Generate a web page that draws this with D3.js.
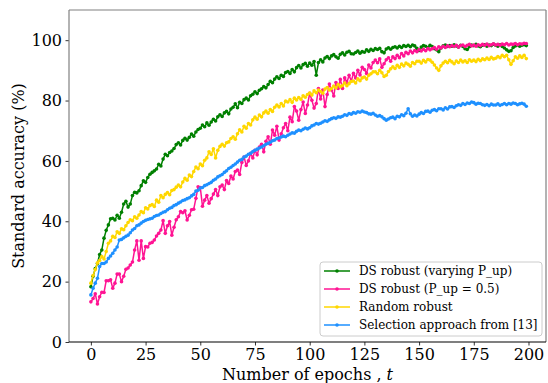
<!DOCTYPE html>
<html><head><meta charset="utf-8">
<script src="https://cdn.jsdelivr.net/npm/d3@7"></script>
<style>body{margin:0;background:#fff;} svg{display:block;}</style>
</head><body>
<svg id="chart" width="548" height="383"></svg>
<script>
const xTicks = [0,25,50,75,100,125,150,175,200];
const yTicks = [0,20,40,60,80,100];
const seriesNames = ["DS robust (varying P_up)","DS robust (P_up = 0.5)","Random robust","Selection approach from [13]"];
const seriesColors = ["#008000","#ff1493","#ffd700","#1e90ff"];

const dsVarying = [
18.3,21.8,24.3,26.0,29.0,30.5,34.4,37.0,38.8,40.8,41.0,40.4,42.0,41.0,43.0,45.7,46.6,44.7,45.7,48.5,
49.6,49.4,50.1,51.8,53.4,52.9,54.5,55.6,56.2,56.7,57.3,58.9,58.3,60.6,62.2,61.7,62.8,63.3,64.1,65.4,
66.0,65.3,66.8,67.5,66.9,67.8,68.9,68.2,69.6,70.4,70.8,71.9,71.3,72.6,71.8,72.9,73.8,73.2,74.6,75.3,
74.7,75.9,76.4,75.6,77.2,77.8,78.9,77.6,79.4,79.0,80.3,80.8,80.2,81.6,82.1,82.9,82.3,83.4,83.9,84.6,
84.2,85.3,86.4,85.9,87.1,87.9,87.3,88.4,88.0,89.3,89.6,89.0,90.3,89.5,90.9,91.6,90.8,91.9,92.3,91.4,
92.4,91.7,92.9,88.4,92.6,93.5,92.8,94.1,94.6,93.9,94.8,95.2,94.5,94.0,95.3,95.8,95.1,96.0,96.3,95.5,
95.4,95.9,96.4,95.7,96.2,96.0,96.8,96.3,97.0,96.6,97.2,96.9,97.3,96.2,95.8,97.1,97.5,97.0,97.6,97.8,
97.4,98.0,97.6,98.2,97.9,98.3,97.8,98.4,98.1,97.3,96.6,97.7,98.2,98.0,97.5,98.3,97.9,97.2,96.8,96.2,
97.4,98.1,98.4,97.9,98.2,98.0,98.5,98.1,97.7,98.3,97.9,97.2,96.9,97.8,98.4,98.2,98.6,98.1,97.8,98.3,
98.5,98.0,98.4,98.2,98.7,98.3,98.0,98.5,97.9,97.4,96.8,96.3,96.5,97.6,98.1,98.4,98.0,98.3,98.5,98.2];

const dsFixed = [
13.3,14.4,16.0,12.6,15.0,16.5,16.4,20.3,20.3,20.6,17.8,19.5,22.5,22.5,20.0,21.8,24.1,24.5,25.5,26.5,
30.5,33.5,27.1,33.5,27.7,31.6,31.5,32.7,33.0,33.8,35.1,36.0,37.1,40.2,36.0,38.5,39.9,35.4,38.0,40.5,
41.5,43.2,42.8,43.5,40.4,42.0,43.8,44.0,47.6,51.4,51.2,45.0,47.0,48.5,46.0,47.5,49.0,50.5,48.5,51.4,
52.0,50.5,53.5,52.5,55.0,54.0,56.5,57.0,55.5,59.5,61.3,58.5,60.0,62.5,61.0,63.5,62.0,64.6,65.5,63.0,
66.5,68.0,65.5,70.2,68.5,71.5,66.9,69.0,71.0,72.4,70.0,74.5,73.0,78.0,76.5,73.5,77.0,79.5,75.7,78.5,
82.4,80.1,77.5,79.0,84.0,80.5,83.5,78.0,82.0,85.5,83.5,81.5,86.0,84.0,87.0,84.0,87.5,86.0,88.4,86.5,
89.0,87.5,90.0,88.5,91.0,90.3,89.0,91.8,90.8,92.6,93.4,92.5,93.8,91.0,92.2,93.5,94.2,93.0,94.5,93.9,
95.0,94.2,95.6,94.8,96.0,95.5,96.4,95.8,96.6,96.2,96.9,96.4,97.0,96.5,97.2,96.8,97.2,97.6,97.0,97.8,
97.4,98.0,97.6,98.1,97.8,98.2,97.9,98.3,97.7,98.2,98.4,97.9,98.3,98.6,98.1,98.4,98.0,98.5,98.2,98.6,
98.3,98.7,98.2,98.5,98.8,98.4,98.6,98.3,98.7,98.5,98.9,98.4,98.7,98.6,98.9,98.5,98.8,98.7,99.0,98.9];

const randomRobust = [
19.5,22.0,24.0,26.2,27.0,28.3,27.5,30.0,32.7,33.5,35.0,34.6,36.5,36.0,37.5,37.2,38.5,39.6,40.5,40.2,
41.5,41.0,42.1,43.2,42.8,44.5,44.1,45.2,45.5,44.9,47.0,46.3,48.5,47.8,48.9,49.5,48.8,50.2,50.5,51.3,
52.0,51.4,53.0,54.2,53.6,55.3,54.8,56.5,58.0,57.4,59.0,58.4,60.2,61.0,63.0,62.1,64.0,61.0,63.5,64.8,
65.5,64.9,66.0,66.3,67.4,68.0,67.2,69.0,70.3,69.6,71.5,70.8,72.4,71.9,73.6,74.5,73.8,75.2,74.6,75.9,
76.5,75.8,77.0,76.4,77.8,78.5,77.9,79.0,78.2,79.8,79.5,80.3,79.4,80.8,80.2,81.0,80.4,81.6,81.1,82.0,
82.5,81.8,83.2,82.6,83.5,83.0,82.4,83.8,84.3,83.5,84.0,84.8,84.2,85.3,84.6,85.0,85.8,84.9,85.6,86.3,
86.5,85.8,87.2,86.6,87.5,87.8,87.1,88.4,88.9,89.5,89.5,88.9,90.0,89.2,88.0,88.4,89.6,90.5,91.2,90.6,
91.7,91.0,92.1,91.5,92.4,92.0,91.4,92.6,92.2,93.0,93.0,92.4,93.3,92.8,93.6,93.4,92.7,91.8,90.8,90.0,
91.5,92.4,93.0,92.5,93.3,92.8,92.2,93.1,92.6,93.4,92.8,93.2,92.6,93.5,93.0,93.4,92.9,93.7,93.2,93.8,
93.5,94.1,93.6,94.3,93.8,94.0,94.6,94.2,95.0,94.5,95.0,93.5,92.0,93.2,94.5,94.0,94.8,94.3,95.0,93.9];

const selection13 = [
15.6,17.8,19.5,21.1,25.0,26.0,26.0,26.5,27.7,28.5,29.4,30.5,31.5,33.8,34.0,34.5,35.0,35.4,36.2,37.1,
37.6,38.5,38.8,39.4,39.9,40.3,40.6,40.8,41.0,41.6,41.9,42.1,42.6,43.0,43.2,43.8,44.3,44.6,45.2,45.5,
46.0,46.4,46.9,47.1,47.5,47.8,48.4,48.9,50.0,50.3,51.0,51.2,51.8,52.1,52.5,52.9,53.6,54.0,54.7,55.1,
55.5,56.2,56.7,57.5,57.9,58.5,59.0,59.6,60.2,60.5,61.3,61.6,62.2,62.5,63.1,63.5,63.9,64.3,64.6,65.0,
65.5,65.8,66.2,66.7,66.9,67.4,67.6,67.9,68.2,68.0,68.5,68.9,69.3,69.2,69.8,70.2,70.0,70.5,70.9,70.6,
71.0,71.6,71.9,72.4,72.2,72.5,72.9,73.3,73.1,73.6,74.0,74.3,74.1,74.6,74.5,74.8,75.3,75.1,75.7,75.5,
76.0,75.8,76.3,76.1,76.5,76.2,76.0,75.6,75.5,75.8,75.2,74.8,75.0,74.6,74.0,73.5,73.9,74.3,74.5,74.0,
74.8,74.6,75.3,75.0,75.8,77.3,75.6,74.8,75.2,74.9,75.5,76.0,75.7,76.4,76.5,76.1,76.8,77.0,76.6,77.3,
77.3,76.9,77.6,77.2,77.9,78.0,77.7,78.3,78.6,78.4,79.0,78.7,79.2,79.0,79.5,79.3,78.8,79.1,79.0,78.6,
78.4,78.7,78.3,78.8,78.5,78.5,78.9,78.4,78.7,79.0,78.6,79.0,78.8,79.2,79.0,78.6,78.9,79.1,78.8,78.1];

const allSeries = [dsVarying, dsFixed, randomRobust, selection13];

const svg = d3.select("#chart");
const L = 69, R = 546, T = 10, B = 342;
const x = d3.scaleLinear().domain([-10, 208]).range([L, R]);
const y = d3.scaleLinear().domain([0, 110]).range([B, T]);
const font = "'DejaVu Serif', serif";

// series
const line = d3.line().x((d,i)=>x(i)).y(d=>y(d));
const plot = svg.append("g");
allSeries.forEach((vals, k) => {
  plot.append("path").attr("d", line(vals)).attr("fill","none")
    .attr("stroke", seriesColors[k]).attr("stroke-width",1.5).attr("stroke-linejoin","round");
  plot.append("g").selectAll("circle").data(vals).join("circle")
    .attr("cx",(d,i)=>x(i)).attr("cy",d=>y(d)).attr("r",1.8).attr("fill",seriesColors[k]);
});

// axes
const xAxis = svg.append("g").attr("transform",`translate(0,${B})`)
  .call(d3.axisBottom(x).tickValues(xTicks).tickSize(3.5).tickPadding(3.5).tickSizeOuter(0));
const yAxis = svg.append("g").attr("transform",`translate(${L},0)`)
  .call(d3.axisLeft(y).tickValues(yTicks).tickSize(3.5).tickPadding(3.5).tickSizeOuter(0));
[xAxis,yAxis].forEach(a=>{
  a.select(".domain").remove();
  a.selectAll("text").attr("font-family",font).attr("font-size","16px").attr("fill","#000");
  a.selectAll("line").attr("stroke","#000").attr("stroke-width",0.8);
});
// spines
svg.append("line").attr("x1",L).attr("x2",L).attr("y1",T).attr("y2",B).attr("stroke","#808080").attr("stroke-width",1.2);
svg.append("line").attr("x1",L).attr("x2",R).attr("y1",T).attr("y2",T).attr("stroke","#808080").attr("stroke-width",1.2);
svg.append("line").attr("x1",R).attr("x2",R).attr("y1",T).attr("y2",B).attr("stroke","#808080").attr("stroke-width",1.2);
svg.append("line").attr("x1",L).attr("x2",R).attr("y1",B).attr("y2",B).attr("stroke","#000").attr("stroke-width",1.2);

// labels
svg.append("text").attr("x",(L+R)/2).attr("y",380).attr("text-anchor","middle")
  .attr("font-family",font).attr("font-size","16px")
  .html('Number of epochs , <tspan font-style="italic">t</tspan>');
svg.append("text").attr("transform",`translate(24,${(T+B)/2}) rotate(-90)`).attr("text-anchor","middle")
  .attr("font-family",font).attr("font-size","16px").text("Standard accuracy (%)");

// legend
const lg = svg.append("g");
lg.append("rect").attr("x",320).attr("y",262).attr("width",222).attr("height",74).attr("rx",3)
  .attr("fill","#fff").attr("fill-opacity",0.8).attr("stroke","#cccccc").attr("stroke-width",1);
seriesNames.forEach((name,k)=>{
  const cy = 271 + k*18;
  lg.append("line").attr("x1",324).attr("x2",350).attr("y1",cy).attr("y2",cy)
    .attr("stroke",seriesColors[k]).attr("stroke-width",1.5);
  lg.append("circle").attr("cx",337).attr("cy",cy).attr("r",1.8).attr("fill",seriesColors[k]);
  lg.append("text").attr("x",359).attr("y",cy+4.3).attr("font-family",font).attr("font-size","12px").text(name);
});
</script>
</body></html>
